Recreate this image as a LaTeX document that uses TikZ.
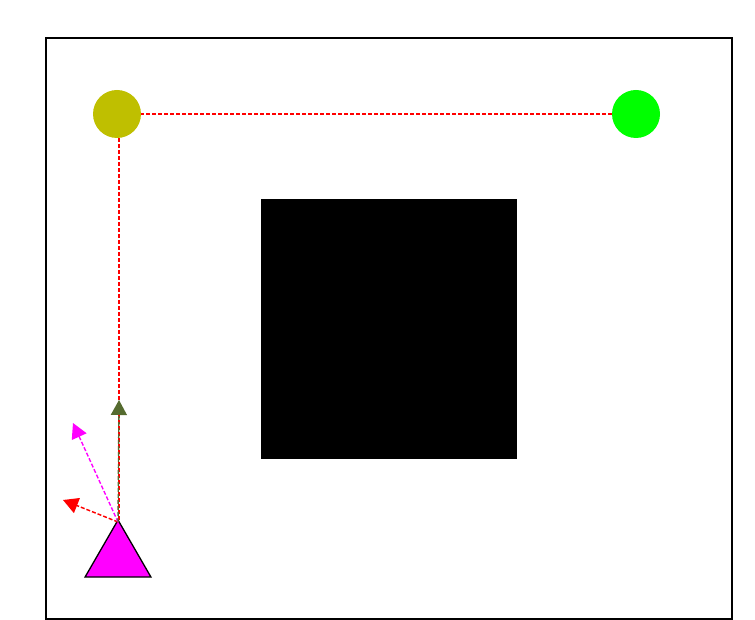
\documentclass[tikz,border=0pt]{standalone}
\usepackage{tikz}
\usetikzlibrary{arrows.meta}
\usetikzlibrary{shapes.geometric}

\definecolor{startcol}{RGB}{191,191,0}
\definecolor{goalcol}{RGB}{0,255,0}
\definecolor{robotcol}{RGB}{255,0,255}
\definecolor{headcol}{RGB}{85,107,47}

\begin{document}
\begin{tikzpicture}
        [ x=1pt, y=-1pt
        , wp/.style={circle, inner sep=0, minimum size=48pt}
        , route/.style={red, dash pattern=on 4pt off 2pt, line width=1.5pt}
        , heading/.style={dash pattern=on 4pt off 2pt, line width=1.4pt, -{Triangle[length=15pt,width=16pt]}}
        ]
                \useasboundingbox (0,0) rectangle (755,620);
                \draw[line width=1.4pt] (46,38) rectangle (732,619);
                \node[fill=black, inner sep=0, minimum width=256pt, minimum height=260pt] (obstacle) at (389,329) {};
                \node[wp, fill=startcol] (start) at (117,114) {};
                \node[wp, fill=goalcol] (goal) at (636,114) {};
                \node[regular polygon, regular polygon sides=3, draw=black, fill=robotcol,
                      line width=1.3pt, inner sep=0, minimum size=76pt] (robot) at (118,558) {};
                \coordinate (apex) at (118,522);
                \coordinate (ahead) at (119,400);
                \coordinate (left) at (73,423);
                \coordinate (back) at (63,500);
                \draw[route] (goal) -- (start.east);
                \draw[route] (start.south -| ahead) -- (apex -| ahead);
                \draw[heading, red] (apex) -- (back);
                \draw[heading, robotcol] (apex) -- (left);
                \draw[heading, headcol] (apex) -- (ahead);
        \end{tikzpicture}
\end{document}
